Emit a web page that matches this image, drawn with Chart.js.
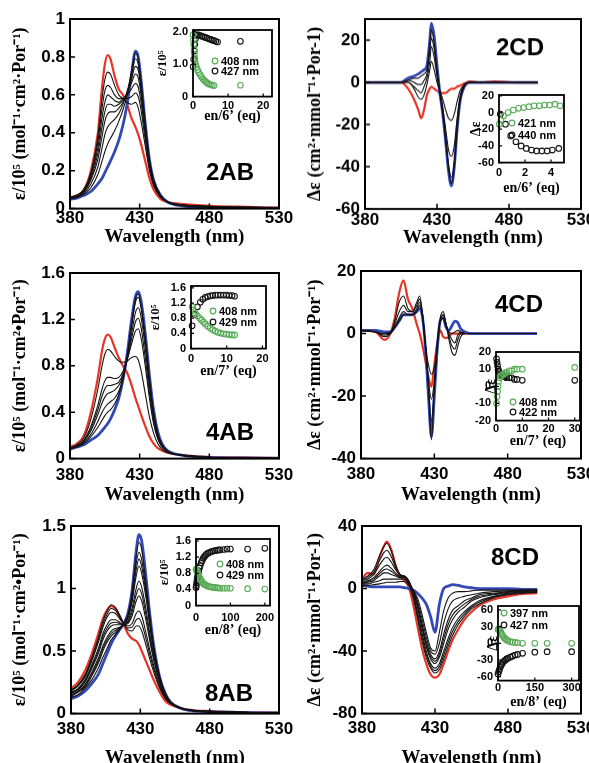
<!DOCTYPE html>
<html><head><meta charset="utf-8">
<script src="https://cdn.jsdelivr.net/npm/chart.js@4.4.1/dist/chart.umd.min.js"></script>
<style>
html,body{margin:0;padding:0;background:#fff;}
body{width:589px;height:763px;overflow:hidden;position:relative;}
canvas{position:absolute;}
</style></head><body>
<script>
// ================= DATA =================
const xTicksMain=[380,430,480,530];
const xLabelsMain=['380','430','480','530'];

// ---- 2AB ----
const wlA2=[380,385,390,395,400,403,405,407,409,412,415,418,421,424,427,429,431,434,437,440,445,450,460,480,500,530];
const redA2=[0.06,0.07,0.1,0.2,0.4,0.64,0.76,0.81,0.79,0.7,0.63,0.6,0.55,0.48,0.43,0.39,0.34,0.25,0.16,0.1,0.05,0.035,0.025,0.015,0.01,0.005];
const blueA2=[0.05,0.055,0.07,0.09,0.13,0.16,0.19,0.22,0.25,0.3,0.36,0.44,0.55,0.7,0.83,0.8,0.68,0.45,0.26,0.15,0.07,0.035,0.015,0.005,0.003,0.002];
const blkA2_1=[0.06,0.07,0.1,0.19,0.38,0.58,0.68,0.72,0.71,0.65,0.6,0.58,0.56,0.55,0.56,0.53,0.46,0.33,0.2,0.12,0.06,0.035,0.02,0.012,0.008,0.004];
const blkA2_2=[0.06,0.07,0.1,0.18,0.35,0.53,0.62,0.65,0.64,0.6,0.58,0.58,0.58,0.59,0.61,0.59,0.52,0.36,0.22,0.13,0.06,0.035,0.02,0.012,0.008,0.004];
const blkA2_3=[0.06,0.065,0.09,0.17,0.32,0.48,0.56,0.6,0.59,0.57,0.56,0.58,0.6,0.63,0.66,0.64,0.56,0.39,0.23,0.13,0.06,0.035,0.02,0.012,0.008,0.004];
const blkA2_4=[0.055,0.065,0.09,0.16,0.29,0.43,0.51,0.55,0.55,0.54,0.55,0.57,0.61,0.66,0.71,0.69,0.6,0.41,0.24,0.14,0.065,0.035,0.018,0.01,0.006,0.003];
const blkA2_5=[0.055,0.06,0.085,0.15,0.26,0.38,0.46,0.5,0.51,0.51,0.53,0.56,0.61,0.68,0.75,0.73,0.63,0.43,0.25,0.14,0.065,0.035,0.018,0.01,0.006,0.003];
const blkA2_6=[0.055,0.06,0.08,0.13,0.22,0.32,0.39,0.43,0.45,0.47,0.5,0.55,0.62,0.7,0.79,0.76,0.65,0.44,0.25,0.15,0.07,0.035,0.016,0.008,0.005,0.003];
const blkA2_7=[0.05,0.06,0.075,0.11,0.18,0.25,0.3,0.34,0.37,0.41,0.46,0.52,0.6,0.72,0.82,0.79,0.67,0.45,0.26,0.15,0.07,0.035,0.015,0.006,0.004,0.002];
const yTicksA2=[0,0.2,0.4,0.6,0.8,1];
const yLabelsA2=['0','0.2','0.4','0.6','0.8','1'];

// ---- 2CD ----
const wlC2=[380,395,405,410,414,417,419,421,423,425,426,428,430,432,434,436,438,440,442,444,446,449,453,460,470,485,500];
const redC2=[0,0,0,-3,-8,-13,-17,-13,-6,-3,-2,-3,-4,-5,-5,-5,-4,-3,-3,-2,-1.5,-0.5,0.5,0,0.5,0,0];
const blueC2=[0,0,0,2,3,4,5,6,8,20,28,22,8,-5,-15,-28,-42,-49,-40,-22,-9,-2,0,0,0,0,0];
const blkC2_1=[0,0,0,0,-3,-7,-8,-6,-1,6,10,6,0,-4,-8,-13,-17,-18,-15,-9,-4,-1,0,0,0,0,0];
const blkC2_2=[0,0,0,0,-2,-4,-5,-2,2,10,17,12,3,-4,-12,-22,-32,-35,-30,-17,-7,-1,0,0,0,0,0];
const blkC2_3=[0,0,0,1,0,-1,-1,1,4,15,21,16,5,-5,-14,-26,-39,-45,-38,-21,-8,-1.5,0,0,0,0,0];
const blkC2_4=[0,0,0,1,2,2,3,4,6,18,25,19,6,-5,-15,-27,-41,-48,-40,-22,-9,-2,0,0,0,0,0];
const yTicksC2=[-60,-40,-20,0,20];
const yLabelsC2=['-60','-40','-20','0','20'];

// ---- 4AB ----
const wlA4=[380,385,390,395,400,403,405,407,409,412,415,418,421,424,427,429,431,434,437,440,443,446,450,460,480,500,530];
const redA4=[0.1,0.13,0.2,0.4,0.7,0.93,1.03,1.07,1.05,0.96,0.87,0.8,0.74,0.64,0.52,0.45,0.38,0.28,0.19,0.13,0.09,0.07,0.05,0.03,0.015,0.01,0.005];
const blueA4=[0.08,0.1,0.12,0.16,0.2,0.24,0.27,0.3,0.34,0.42,0.52,0.68,0.9,1.18,1.4,1.44,1.36,1.08,0.72,0.42,0.23,0.13,0.07,0.03,0.01,0.006,0.003];
const blkA4_1=[0.09,0.12,0.18,0.34,0.6,0.8,0.9,0.94,0.93,0.88,0.84,0.83,0.84,0.87,0.88,0.85,0.76,0.56,0.36,0.22,0.13,0.08,0.05,0.03,0.012,0.008,0.004];
const blkA4_2=[0.09,0.11,0.16,0.28,0.46,0.6,0.67,0.7,0.7,0.69,0.7,0.75,0.85,0.98,1.1,1.12,1.04,0.8,0.52,0.3,0.17,0.1,0.06,0.03,0.012,0.008,0.004];
const blkA4_3=[0.09,0.11,0.155,0.26,0.42,0.54,0.6,0.63,0.63,0.64,0.66,0.73,0.85,1.02,1.18,1.21,1.13,0.87,0.57,0.33,0.18,0.1,0.06,0.03,0.012,0.008,0.004];
const blkA4_4=[0.09,0.11,0.15,0.24,0.38,0.48,0.53,0.56,0.57,0.59,0.63,0.71,0.86,1.06,1.26,1.3,1.22,0.95,0.62,0.36,0.2,0.11,0.06,0.03,0.012,0.008,0.004];
const blkA4_5=[0.085,0.105,0.14,0.21,0.32,0.4,0.44,0.47,0.49,0.52,0.58,0.69,0.87,1.12,1.35,1.39,1.3,1.02,0.67,0.39,0.21,0.12,0.065,0.03,0.011,0.007,0.003];
const blkA4_6=[0.085,0.1,0.13,0.19,0.27,0.33,0.37,0.4,0.42,0.47,0.55,0.68,0.88,1.15,1.38,1.42,1.33,1.05,0.7,0.4,0.22,0.12,0.065,0.03,0.01,0.006,0.003];
const yTicksA4=[0,0.4,0.8,1.2,1.6];
const yLabelsA4=['0','0.4','0.8','1.2','1.6'];

// ---- 4CD ----
const wlC4=[380,390,396,400,403,406,409,412,415,418,420,422,424,426,428,430,432,434,436,438,440,442,444,446,448,451,455,460,470,485,500];
const redC4=[1,0.5,-2,0,5,13,17,11,8,3,0,-4,-9,-14,-17,-10,-3,1,-1,-1.5,-1,0,0,0,0,0,0,0,0,0,0];
const blueC4=[1,1,0.5,0.5,2,4,6,6,6,7,8,5,-5,-20,-33,-20,-5,4,5,2,1,2.5,4,3.5,1.5,0.5,0,0,0,0,0];
const blkC4_1=[1,0.5,-1,0,4,10,12,8,7,10,12,6,-4,-18,-34,-18,-3,5,7,3,-2,-6,-7,-4,-1,0,0,0,0,0,0];
const blkC4_2=[1,0.5,-0.5,0,3,7,9,7,7,9,11,6,-4,-17,-28,-17,-4,4,6,3,-1,-4,-5,-2,0,0,0,0,0,0,0];
const blkC4_3=[1,0.5,0,0,2,5,7,6,6,8,10,5,-4,-15,-21,-15,-4,4,6,3,0,-2,-3,-0.5,0.5,0,0,0,0,0,0];
const blkC4_4=[1,0.5,0,0.5,2,4,6,6,6,7,9,5,-4,-10,-13,-11,-4,4,5,2,0.5,0,0.5,1,0.5,0,0,0,0,0,0];
const yTicksC4=[-40,-20,0,20];
const yLabelsC4=['-40','-20','0','20'];

// ---- 8AB ----
const wlA8=[380,385,390,395,400,403,406,409,412,415,418,421,424,427,429,431,434,437,440,444,448,452,460,470,480,500,530];
const redA8=[0.2,0.25,0.34,0.48,0.65,0.76,0.83,0.86,0.84,0.78,0.71,0.64,0.6,0.58,0.55,0.5,0.42,0.34,0.26,0.17,0.1,0.07,0.04,0.025,0.02,0.012,0.008];
const blueA8=[0.12,0.14,0.18,0.24,0.32,0.4,0.48,0.56,0.62,0.67,0.72,0.8,0.98,1.3,1.43,1.38,1.1,0.78,0.52,0.29,0.16,0.09,0.04,0.02,0.015,0.01,0.005];
const blkA8_1=[0.19,0.23,0.31,0.45,0.62,0.74,0.82,0.87,0.85,0.79,0.72,0.67,0.66,0.7,0.7,0.66,0.55,0.43,0.32,0.2,0.12,0.08,0.04,0.025,0.018,0.011,0.007];
const blkA8_2=[0.185,0.225,0.3,0.435,0.6,0.715,0.795,0.84,0.825,0.775,0.72,0.685,0.69,0.75,0.76,0.72,0.6,0.465,0.345,0.215,0.125,0.08,0.04,0.025,0.018,0.011,0.007];
const blkA8_3=[0.18,0.22,0.29,0.42,0.58,0.69,0.77,0.81,0.8,0.76,0.72,0.7,0.72,0.8,0.82,0.78,0.65,0.5,0.37,0.23,0.13,0.08,0.04,0.025,0.018,0.011,0.007];
const blkA8_4=[0.17,0.2,0.27,0.39,0.53,0.64,0.71,0.75,0.75,0.73,0.71,0.72,0.78,0.9,0.94,0.9,0.75,0.57,0.41,0.25,0.14,0.085,0.04,0.023,0.017,0.01,0.006];
const blkA8_5=[0.165,0.195,0.26,0.375,0.51,0.615,0.685,0.725,0.73,0.72,0.71,0.73,0.81,0.95,1.0,0.955,0.795,0.6,0.43,0.26,0.145,0.088,0.04,0.022,0.016,0.01,0.006];
const blkA8_6=[0.16,0.19,0.25,0.36,0.49,0.59,0.66,0.7,0.71,0.71,0.71,0.74,0.84,1.0,1.06,1.01,0.84,0.63,0.45,0.27,0.15,0.09,0.04,0.022,0.016,0.01,0.006];
const blkA8_7=[0.15,0.18,0.23,0.33,0.45,0.54,0.61,0.66,0.68,0.69,0.71,0.76,0.89,1.1,1.18,1.12,0.93,0.69,0.48,0.28,0.155,0.09,0.04,0.021,0.015,0.01,0.006];
const blkA8_8=[0.145,0.175,0.22,0.315,0.43,0.52,0.59,0.64,0.665,0.685,0.71,0.77,0.915,1.15,1.235,1.175,0.965,0.71,0.49,0.285,0.158,0.09,0.04,0.02,0.015,0.01,0.005];
const blkA8_9=[0.14,0.17,0.21,0.3,0.41,0.5,0.57,0.62,0.65,0.68,0.71,0.78,0.94,1.2,1.29,1.23,1.0,0.73,0.5,0.29,0.16,0.09,0.04,0.02,0.015,0.01,0.005];
const blkA8_10=[0.13,0.15,0.2,0.27,0.37,0.45,0.52,0.59,0.63,0.67,0.72,0.79,0.97,1.26,1.37,1.31,1.05,0.76,0.51,0.29,0.16,0.09,0.04,0.02,0.015,0.01,0.005];
const yTicksA8=[0,0.5,1,1.5];
const yLabelsA8=['0','0.5','1','1.5'];

// ---- 8CD ----
const wlC8=[380,384,388,392,395,397,400,403,406,409,412,415,418,421,424,427,430,433,436,439,442,446,450,455,460,470,480,490,500];
const redC8=[6,10,9,20,27,30,25,15,8,5,1,-10,-24,-38,-48,-55,-57,-55,-48,-40,-33,-26,-20,-15,-11,-7,-5,-3.5,-3];
const blueC8=[2,1.5,1,1,1,1,1,1,1,0.5,0,-1,-3,-6,-10,-18,-28,-10,0,1.5,2.5,2,1,0.5,0,0,0,-0.5,-0.5];
const blkC8_1=[6,8,12,21,27,29,24,15,9,7,3,-6,-19,-33,-44,-51,-54,-52,-45,-37,-30,-23,-18,-13,-10,-6,-4,-3,-2.5];
const blkC8_2=[5.5,7,10.5,18,23,24.5,20.5,13.5,9,7.5,4,-4.5,-17,-30.5,-42,-49.5,-52.5,-50,-42.5,-34.5,-27.5,-21,-16.5,-12,-9,-5.5,-3.7,-2.7,-2.2];
const blkC8_3=[5,6,9,15,19,20,17,12,9,8,5,-3,-15,-28,-40,-48,-51,-48,-40,-32,-25,-19,-15,-11,-8,-5,-3.5,-2.5,-2];
const blkC8_4=[4,5,7,11,14,15,13,10,8,8,5,-2,-12,-25,-37,-45,-48,-44,-35,-26,-20,-15,-12,-8,-6,-4,-3,-2,-1.5];
const blkC8_5=[3.5,4.5,6,9.5,12,12.5,11,9,7.5,7.5,4.5,-1.5,-11,-23.5,-35.5,-43.5,-46.5,-42,-32,-23,-17,-13,-10,-7,-5,-3.5,-2.5,-1.7,-1.2];
const blkC8_6=[3,4,5,8,10,10,9,8,7,7,4,-1,-10,-22,-34,-42,-45,-40,-29,-20,-14,-11,-8,-6,-4,-3,-2,-1.5,-1];
const blkC8_7=[3,3,4,5,6,6,6,6,6,6,3,-1,-8,-19,-31,-40,-42,-35,-22,-13,-8,-6,-5,-4,-3,-2,-1.5,-1,-1];
const blkC8_8=[2,2,2.5,3,3.5,4,4,4,4.5,4.5,2,-1,-6,-16,-28,-38,-40,-28,-14,-6,-3,-2,-2,-1.5,-1,-1,-1,-1,-1];
const yTicksC8=[-80,-40,0,40];
const yLabelsC8=['-80','-40','0','40'];

// ---- insets ----
const inA2_gx=[0,0.1,0.2,0.3,0.4,0.5,0.6,0.8,1.0,1.3,1.6,2.0,2.4,2.8,3.2,3.6,4.0,4.5,5.0,5.5,6.0,13.5];
const inA2_gy=[1.9,1.75,1.6,1.45,1.3,1.18,1.08,0.98,0.9,0.82,0.75,0.68,0.61,0.55,0.5,0.46,0.42,0.39,0.37,0.35,0.34,0.35];
const inA2_kx=[0.05,0.2,0.35,0.5,0.7,0.9,1.2,1.5,2.0,2.5,3.0,3.5,4.0,4.5,5.0,5.5,6.0,6.5,7.0,13.5];
const inA2_ky=[0.92,1.15,1.4,1.6,1.78,1.88,1.9,1.9,1.88,1.86,1.84,1.82,1.8,1.78,1.76,1.74,1.72,1.7,1.68,1.7];
const inA2_xt=[0,10,20], inA2_xl=['0','10','20'], inA2_yt=[0,1,2], inA2_yl=['0','1.0','2.0'];

const inC2_gx=[0.02,0.15,0.35,0.7,1.1,1.5,1.9,2.3,2.7,3.1,3.5,3.9,4.3,4.7];
const inC2_gy=[-14,-9,-4,0,3,5,6,7,8,8,9,9,10,8];
const inC2_kx=[0.1,0.5,0.9,1.3,1.7,2.1,2.5,2.9,3.3,3.7,4.1,4.6];
const inC2_ky=[-2,-14,-28,-35,-40,-43,-45,-46,-46,-46,-45,-43];
const inC2_xt=[0,2,4], inC2_xl=['0','2','4'], inC2_yt=[-60,-40,-20,0,20], inC2_yl=['-60','-40','-20','0','20'];

const inA4_gx=[0.3,0.7,1.2,1.8,2.5,3.0,3.5,4.0,4.7,5.4,6.1,6.8,7.5,8.3,9.1,9.9,10.7,11.5,12.2];
const inA4_gy=[1.1,1.02,0.93,0.86,0.8,0.75,0.7,0.65,0.59,0.54,0.5,0.46,0.43,0.41,0.39,0.38,0.37,0.36,0.36];
const inA4_kx=[0.3,1.0,1.8,2.6,3.3,4.0,4.7,5.4,6.1,6.8,7.5,8.3,9.1,9.9,10.7,11.5,12.2];
const inA4_ky=[0.6,0.9,1.1,1.22,1.3,1.35,1.37,1.39,1.4,1.41,1.41,1.41,1.41,1.41,1.4,1.4,1.38];
const inA4_xt=[0,10,20], inA4_xl=['0','10','20'], inA4_yt=[0,0.4,0.8,1.2,1.6], inA4_yl=['0','0.4','0.8','1.2','1.6'];

const inC4_gx=[0.2,0.4,0.6,0.8,1,1.3,1.6,2,2.5,3,3.5,4,5,6,7,8,10,30];
const inC4_gy=[-10,-6,-3,0,3,5,6,6,7,7,8,8,9,9,10,10,10,11];
const inC4_kx=[0.2,0.4,0.6,0.8,1,1.3,1.6,2,2.5,3,3.5,4,5,6,7,8,10,30];
const inC4_ky=[16,14,12,10,9,8,7,6.5,6,6,5.5,5,5,5,4,4,3.5,3.5];
const inC4_xt=[0,10,20,30], inC4_xl=['0','10','20','30'], inC4_yt=[-20,-10,0,10,20], inC4_yl=['-20','-10','0','10','20'];

const inA8_x=[0,1,2,3,4,5,6,8,10,12,15,18,21,24,27,30,35,40,45,50,55,60,65,70,80,90,100,150,200];
const inA8_ky=[0.45,0.5,0.56,0.62,0.68,0.73,0.78,0.86,0.93,0.99,1.06,1.12,1.17,1.21,1.24,1.27,1.3,1.32,1.34,1.35,1.36,1.37,1.38,1.38,1.39,1.4,1.4,1.4,1.42];
const inA8_gy=[0.9,0.89,0.87,0.85,0.83,0.8,0.78,0.74,0.7,0.66,0.62,0.58,0.55,0.53,0.51,0.5,0.48,0.47,0.46,0.45,0.45,0.44,0.44,0.43,0.43,0.43,0.43,0.42,0.41];
const inA8_xt=[0,100,200], inA8_xl=['0','100','200'], inA8_yt=[0,0.4,0.8,1.2,1.6], inA8_yl=['0','0.4','0.8','1.2','1.6'];

const inC8_x=[0,3,6,9,12,16,20,25,30,35,40,50,60,70,80,100,150,200,300];
const inC8_gy=[25,26,25,22,19,16,13,10,8,6,5,3,2,1.5,1,0,0,0,0];
const inC8_ky=[-55,-51,-47,-43,-40,-37,-34,-32,-30,-28,-27,-25,-23,-21,-20,-18,-16,-15,-15];
const inC8_xt=[0,150,300], inC8_xl=['0','150','300'], inC8_yt=[-60,-30,0,30,60], inC8_yl=['-60','-30','0','30','60'];

// ================= DRAWING =================
const SANS='"Liberation Sans", Arial, sans-serif';
const SERIF='"Liberation Serif", "Times New Roman", serif';
const RED='rgb(232,52,38)', BLUE='rgb(52,72,182)', GREEN='rgb(88,172,88)', BLK='#141414';

function mk(x,y,w,h){
  const c=document.createElement('canvas');
  c.width=w; c.height=h;
  c.style.left=x+'px'; c.style.top=y+'px'; c.style.width=w+'px'; c.style.height=h+'px';
  document.body.appendChild(c); return c;
}
function pairs(xs,ys){ return xs.map((x,i)=>({x:x,y:ys[i]})); }

const framePlugin={id:'frame', afterDatasetsDraw(chart,args,o){
  const ctx=chart.ctx, a=chart.chartArea, xs=chart.scales.x, ys=chart.scales.y;
  ctx.save();
  ctx.strokeStyle='#000'; ctx.lineWidth=o.lw;
  ctx.strokeRect(a.left,a.top,a.right-a.left,a.bottom-a.top);
  ctx.lineWidth=o.tw; ctx.beginPath();
  xs.ticks.forEach(t=>{const p=xs.getPixelForValue(t.value); ctx.moveTo(p,a.bottom); ctx.lineTo(p,a.bottom-o.tl);});
  ys.ticks.forEach(t=>{const p=ys.getPixelForValue(t.value); ctx.moveTo(a.left,p); ctx.lineTo(a.left+o.tl,p);});
  ctx.stroke();
  const ox=o.off[0], oy=o.off[1];
  (o.texts||[]).forEach(t=>{ctx.font=t.font; ctx.fillStyle='#000'; ctx.textAlign='center'; ctx.textBaseline='middle'; ctx.fillText(t.t,t.x-ox,t.y-oy);});
  (o.legend||[]).forEach(e=>{
    ctx.beginPath(); ctx.arc(e.x-ox,e.y-oy,2.8,0,Math.PI*2); ctx.strokeStyle=e.c; ctx.lineWidth=1.2; ctx.stroke();
    ctx.font='bold 11px '+SANS; ctx.fillStyle='#000'; ctx.textAlign='left'; ctx.textBaseline='middle';
    ctx.fillText(e.t,e.x-ox+6,e.y-oy+0.5);
  });
  ctx.restore();
}};

function axis(dir,a){
  return {type:'linear',min:a.min,max:a.max,
    afterBuildTicks:s=>{s.ticks=a.ticks.map(v=>({value:v}));},
    grid:{display:false,drawTicks:false,tickLength:0},border:{display:false},
    ticks:{autoSkip:false,maxRotation:0,minRotation:0,padding:a.pad,color:'#000',
      font:{family:SANS,weight:'bold',size:a.size},callback:(v,i)=>a.labels[i]},
    title:{display:true,text:a.title,color:'#000',font:{family:SERIF,weight:'bold',size:a.tsize},
      padding: dir==='x'?{top:0,bottom:0}:{top:a.tpad,bottom:0}},
    afterFit:s=>{ if(dir==='x'){s.height=a.fit;} else {s.width=a.fit;}
      s.paddingLeft=0;s.paddingRight=0;s.paddingTop=0;s.paddingBottom=0;}
  };
}
function line(wl,ys,color,w){
  return {data:pairs(wl,ys),borderColor:color,borderWidth:w,pointRadius:0,fill:false,cubicInterpolationMode:'monotone'};
}

function mainChart(o){
  const l=o.plot[0],t=o.plot[1],r=o.plot[2],b=o.plot[3];
  const cx=o.cx, cy=t-12, pr=20, Wy=l-cx;
  const w=r-cx+pr, h=b-cy+o.Hx;
  const c=mk(cx,cy,w,h);
  const ds=[];
  o.black.forEach(arr=>ds.push(line(o.wl,arr,BLK,1.1)));
  ds.push(line(o.wl,o.blue,BLUE,2.8));
  ds.push(line(o.wl,o.red,RED,2.2));
  new Chart(c,{type:'line',data:{datasets:ds},options:{
    responsive:false,animation:false,devicePixelRatio:1,events:[],
    layout:{padding:{top:12,right:pr,left:0,bottom:0}},
    plugins:{legend:{display:false},tooltip:{enabled:false},
      frame:{lw:2,tw:1.5,tl:5,off:[cx,cy],texts:[{t:o.label,x:o.lx,y:o.ly,font:'bold 24px '+SANS}]}},
    scales:{
      x:axis('x',{min:380,max:530,ticks:xTicksMain,labels:xLabelsMain,pad:o.xpad,size:17,title:'Wavelength (nm)',tsize:19,fit:o.Hx}),
      y:axis('y',{min:o.ymin,max:o.ymax,ticks:o.yt,labels:o.yl,pad:5,size:17,title:o.ytitle,tsize:18,fit:Wy,tpad:10})
    }},plugins:[framePlugin]});
}

function pts(xs,ys,color){
  return {data:pairs(xs,ys),showLine:false,pointStyle:'circle',pointRadius:2.8,
    pointBorderColor:color,pointBackgroundColor:'rgba(255,255,255,0)',pointBorderWidth:1.1,clip:false};
}
function insetChart(o){
  const l=o.frame[0],t=o.frame[1],r=o.frame[2],b=o.frame[3];
  const cx=l-o.Wy, cy=t-8, pr=12;
  const w=r-cx+pr, h=b-cy+o.Hx;
  const c=mk(cx,cy,w,h);
  const ds=[pts(o.gx,o.gy,GREEN),pts(o.kx,o.ky,BLK)];
  new Chart(c,{type:'scatter',data:{datasets:ds},options:{
    responsive:false,animation:false,devicePixelRatio:1,events:[],
    layout:{padding:{top:8,right:pr,left:0,bottom:0}},
    plugins:{legend:{display:false},tooltip:{enabled:false},
      frame:{lw:1.8,tw:1.2,tl:3,off:[cx,cy],legend:o.legend}},
    scales:{
      x:axis('x',{min:o.xmin,max:o.xmax,ticks:o.xt,labels:o.xl,pad:o.xpad,size:11,title:o.xtitle,tsize:14,fit:o.Hx}),
      y:axis('y',{min:o.ymin,max:o.ymax,ticks:o.yt,labels:o.yl,pad:5,size:11,title:o.ytitle,tsize:o.ytsize,fit:o.Wy,tpad:o.tpad})
    }},plugins:[framePlugin]});
}

// ---- main panels ----
mainChart({plot:[70,19,279,209],cx:0,Hx:39.4,xpad:0,wl:wlA2,red:redA2,blue:blueA2,
  black:[blkA2_1,blkA2_2,blkA2_3,blkA2_4,blkA2_5,blkA2_6,blkA2_7],ymin:0,ymax:1,yt:yTicksA2,yl:yLabelsA2,
  ytitle:'\u03b5/10\u2075 (mol\u207b\u00b9\u00b7cm\u00b2\u00b7Por\u207b\u00b9)',label:'2AB',lx:230,ly:173});
mainChart({plot:[365,19,581,209],cx:295,Hx:39.9,xpad:1,wl:wlC2,red:redC2,blue:blueC2,
  black:[blkC2_1,blkC2_2,blkC2_3,blkC2_4],ymin:-60,ymax:30,yt:yTicksC2,yl:yLabelsC2,
  ytitle:'\u0394\u03b5 (cm\u00b2\u00b7mmol\u207b\u00b9\u00b7Por-1)',label:'2CD',lx:520,ly:48});
mainChart({plot:[70,273,279,459],cx:0,Hx:47.4,xpad:7,wl:wlA4,red:redA4,blue:blueA4,
  black:[blkA4_1,blkA4_2,blkA4_3,blkA4_4,blkA4_5,blkA4_6],ymin:0,ymax:1.6,yt:yTicksA4,yl:yLabelsA4,
  ytitle:'\u03b5/10\u2075 (mol\u207b\u00b9\u00b7cm\u00b2\u2022Por\u207b\u00b9)',label:'4AB',lx:230,ly:433});
mainChart({plot:[361,271,581,459],cx:295,Hx:47.4,xpad:6,wl:wlC4,red:redC4,blue:blueC4,
  black:[blkC4_1,blkC4_2,blkC4_3,blkC4_4],ymin:-40,ymax:20,yt:yTicksC4,yl:yLabelsC4,
  ytitle:'\u0394\u03b5 (cm\u00b2\u00b7mmol\u207b\u00b9\u00b7Por\u207b\u00b9)',label:'4CD',lx:519,ly:305});
mainChart({plot:[71,526,279,714],cx:0,Hx:55.4,xpad:6,wl:wlA8,red:redA8,blue:blueA8,
  black:[blkA8_1,blkA8_2,blkA8_3,blkA8_4,blkA8_5,blkA8_6,blkA8_7,blkA8_8,blkA8_9,blkA8_10],ymin:0,ymax:1.5,yt:yTicksA8,yl:yLabelsA8,
  ytitle:'\u03b5/10\u2075 (mol\u207b\u00b9\u00b7cm\u00b2\u2022Por\u207b\u00b9)',label:'8AB',lx:229,ly:694});
mainChart({plot:[362,526,581,714],cx:295,Hx:55.4,xpad:5,wl:wlC8,red:redC8,blue:blueC8,
  black:[blkC8_1,blkC8_2,blkC8_3,blkC8_4,blkC8_5,blkC8_6,blkC8_7,blkC8_8],ymin:-80,ymax:40,yt:yTicksC8,yl:yLabelsC8,
  ytitle:'\u0394\u03b5 (cm\u00b2\u00b7mmol\u207b\u00b9\u00b7Por-1)',label:'8CD',lx:515,ly:558});

// ---- insets ----
insetChart({frame:[193,30,272,97],Wy:40,tpad:2.2,Hx:28.4,xpad:2.4,xmin:0,xmax:22.5,ymin:0,ymax:2.05,
  xt:inA2_xt,xl:inA2_xl,yt:inA2_yt,yl:inA2_yl,gx:inA2_gx,gy:inA2_gy,kx:inA2_kx,ky:inA2_ky,
  xtitle:'en/6\u2019 (eq)',ytitle:'\u03b5/10\u2075',ytsize:13,
  legend:[{c:GREEN,x:215,y:61,t:'408 nm'},{c:BLK,x:215,y:71,t:'427 nm'}]});
insetChart({frame:[499,95,564,163],Wy:40,tpad:9,Hx:34.4,xpad:3.4,xmin:0,xmax:5,ymin:-60,ymax:21,
  xt:inC2_xt,xl:inC2_xl,yt:inC2_yt,yl:inC2_yl,gx:inC2_gx,gy:inC2_gy,kx:inC2_kx,ky:inC2_ky,
  xtitle:'en/6\u2019 (eq)',ytitle:'\u0394\u03b5',ytsize:14,
  legend:[{c:GREEN,x:512,y:123,t:'421 nm'},{c:BLK,x:512,y:135,t:'440 nm'}]});
insetChart({frame:[191,286,266,349],Wy:45,tpad:2.2,Hx:31.4,xpad:3.4,xmin:0,xmax:21,ymin:0,ymax:1.65,
  xt:inA4_xt,xl:inA4_xl,yt:inA4_yt,yl:inA4_yl,gx:inA4_gx,gy:inA4_gy,kx:inA4_kx,ky:inA4_ky,
  xtitle:'en/7\u2019 (eq)',ytitle:'\u03b5/10\u2075',ytsize:13,
  legend:[{c:GREEN,x:213,y:311,t:'408 nm'},{c:BLK,x:213,y:322,t:'429 nm'}]});
insetChart({frame:[496,352,580,421],Wy:40,tpad:26.6,Hx:29.4,xpad:1.4,xmin:0,xmax:32,ymin:-20,ymax:20,
  xt:inC4_xt,xl:inC4_xl,yt:inC4_yt,yl:inC4_yl,gx:inC4_gx,gy:inC4_gy,kx:inC4_kx,ky:inC4_ky,
  xtitle:'en/7\u2019 (eq)',ytitle:'\u0394\u03b5',ytsize:14,
  legend:[{c:GREEN,x:513,y:402,t:'408 nm'},{c:BLK,x:513,y:412,t:'422 nm'}]});
insetChart({frame:[196,539,270,606],Wy:40,tpad:1.2,Hx:33.4,xpad:5.4,xmin:0,xmax:215,ymin:0,ymax:1.65,
  xt:inA8_xt,xl:inA8_xl,yt:inA8_yt,yl:inA8_yl,gx:inA8_x,gy:inA8_gy,kx:inA8_x,ky:inA8_ky,
  xtitle:'en/8\u2019 (eq)',ytitle:'\u03b5/10\u2075',ytsize:13,
  legend:[{c:GREEN,x:220,y:564,t:'408 nm'},{c:BLK,x:220,y:575,t:'429 nm'}]});
insetChart({frame:[498,606,579,681],Wy:40,tpad:26.6,Hx:30.4,xpad:0.4,xmin:0,xmax:330,ymin:-67,ymax:67,
  xt:inC8_xt,xl:inC8_xl,yt:inC8_yt,yl:inC8_yl,gx:inC8_x,gy:inC8_gy,kx:inC8_x,ky:inC8_ky,
  xtitle:'en/8\u2019 (eq)',ytitle:'\u0394\u03b5',ytsize:14,
  legend:[{c:GREEN,x:504,y:613,t:'397 nm'},{c:BLK,x:504,y:625,t:'427 nm'}]});
</script>
</body></html>
